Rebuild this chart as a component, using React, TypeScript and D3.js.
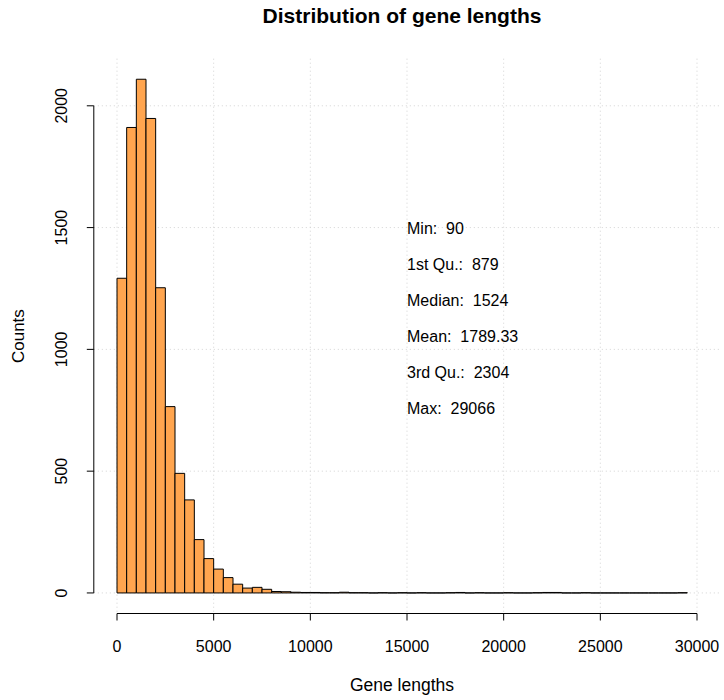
import { useRef, useEffect } from 'react';
import * as d3 from 'd3';

// histogram bins, width 500, from 0 to 29500
const BIN_WIDTH = 500;
const binCounts = [
  1292, 1911, 2109, 1948, 1253, 765, 491, 382, 219, 141,
  98, 63, 36, 20, 23, 15, 6, 5, 3, 2,
  2, 1, 1, 3, 1, 1, 0, 1, 0, 1,
  0, 1, 0, 0, 1, 2, 0, 1, 0, 0,
  1, 0, 0, 1, 2, 2, 0, 0, 1, 0,
  0, 0, 0, 0, 0, 0, 0, 0, 1,
];

const xTicks = [0, 5000, 10000, 15000, 20000, 25000, 30000];
const yTicks = [0, 500, 1000, 1500, 2000];

const statLabels = ['Min', '1st Qu.', 'Median', 'Mean', '3rd Qu.', 'Max'];
const statValues = ['90', '879', '1524', '1789.33', '2304', '29066'];

const FONT = '"Liberation Sans", Arial, Helvetica, sans-serif';
const W = 724;
const H = 700;

export default function App() {
  const svgRef = useRef<SVGSVGElement>(null);

  useEffect(() => {
    const svg = d3.select(svgRef.current);
    svg.selectAll('*').remove();

    const left = 93.8;
    const right = 720.2;
    const top = 58.7;
    const bottom = 613.5;

    const bins = binCounts.map((c, i) => ({ x0: i * BIN_WIDTH, x1: (i + 1) * BIN_WIDTH, count: c }));
    const xMax = 30000;
    const yMax = d3.max(binCounts) as number;

    // R style 4% range extension
    const x = d3.scaleLinear().domain([-0.04 * xMax, xMax * 1.04]).range([left, right]);
    const y = d3.scaleLinear().domain([-0.04 * yMax, yMax * 1.04]).range([bottom, top]);

    // grid
    const grid = svg.append('g')
      .attr('stroke', '#d3d3d3')
      .attr('stroke-width', 1)
      .attr('stroke-dasharray', '1,3');
    grid.selectAll('.gx')
      .data(xTicks)
      .join('line')
      .attr('x1', (d) => x(d))
      .attr('x2', (d) => x(d))
      .attr('y1', top)
      .attr('y2', bottom);
    grid.selectAll('.gy')
      .data(yTicks)
      .join('line')
      .attr('x1', left)
      .attr('x2', right)
      .attr('y1', (d) => y(d))
      .attr('y2', (d) => y(d));

    // bars (paths so empty bins still show their outline)
    svg.append('g')
      .selectAll('path')
      .data(bins)
      .join('path')
      .attr('d', (d) => {
        const p = d3.path();
        p.rect(x(d.x0), y(d.count), x(d.x1) - x(d.x0), y(0) - y(d.count));
        return p.toString();
      })
      .attr('fill', '#ffa54f')
      .attr('stroke', '#000')
      .attr('stroke-width', 1);

    // stats text
    svg.append('g')
      .selectAll('text')
      .data(statLabels)
      .join('text')
      .attr('x', x(15000))
      .attr('y', (_, i) => y(1500 - i * 148) + 6)
      .attr('font-family', FONT)
      .attr('font-size', 16)
      .attr('fill', '#000')
      .style('white-space', 'pre')
      .text((d, i) => `${d}:  ${statValues[i]}`);

    // x axis
    const xa = svg.append('g').attr('stroke', '#000').attr('stroke-width', 1);
    xa.append('line')
      .attr('x1', x(0)).attr('x2', x(30000))
      .attr('y1', bottom).attr('y2', bottom);
    xa.selectAll('.t')
      .data(xTicks)
      .join('line')
      .attr('x1', (d) => x(d)).attr('x2', (d) => x(d))
      .attr('y1', bottom).attr('y2', bottom + 7);
    svg.append('g')
      .selectAll('text')
      .data(xTicks)
      .join('text')
      .attr('x', (d) => x(d))
      .attr('y', bottom + 38)
      .attr('text-anchor', 'middle')
      .attr('font-family', FONT)
      .attr('font-size', 16)
      .text((d) => String(d));

    // y axis
    const ya = svg.append('g').attr('stroke', '#000').attr('stroke-width', 1);
    ya.append('line')
      .attr('x1', left).attr('x2', left)
      .attr('y1', y(0)).attr('y2', y(2000));
    ya.selectAll('.t')
      .data(yTicks)
      .join('line')
      .attr('x1', left).attr('x2', left - 7)
      .attr('y1', (d) => y(d)).attr('y2', (d) => y(d));
    svg.append('g')
      .selectAll('text')
      .data(yTicks)
      .join('text')
      .attr('transform', (d) => `translate(67,${y(d)}) rotate(-90)`)
      .attr('text-anchor', 'middle')
      .attr('font-family', FONT)
      .attr('font-size', 16)
      .text((d) => String(d));

    // titles
    svg.append('text')
      .attr('x', 402)
      .attr('y', 23)
      .attr('text-anchor', 'middle')
      .attr('font-family', FONT)
      .attr('font-size', 21)
      .attr('font-weight', 'bold')
      .text('Distribution of gene lengths');

    svg.append('text')
      .attr('x', 402)
      .attr('y', 691)
      .attr('text-anchor', 'middle')
      .attr('font-family', FONT)
      .attr('font-size', 17.5)
      .text('Gene lengths');

    svg.append('text')
      .attr('transform', `translate(24,${(top + bottom) / 2}) rotate(-90)`)
      .attr('text-anchor', 'middle')
      .attr('font-family', FONT)
      .attr('font-size', 17)
      .text('Counts');
  }, []);

  return (
    <svg
      ref={svgRef}
      width={W}
      height={H}
      style={{ position: 'absolute', left: 0, top: 0, background: '#fff' }}
    />
  );
}
